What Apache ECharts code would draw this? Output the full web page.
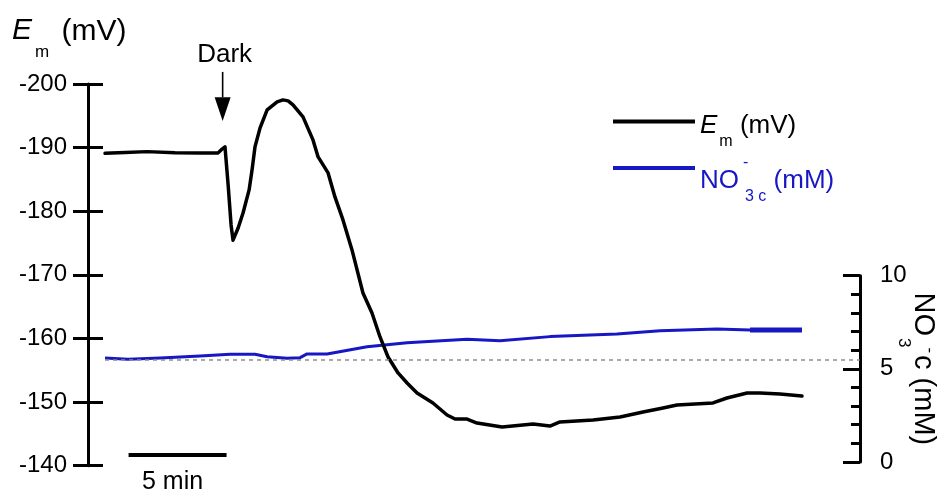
<!DOCTYPE html>
<html>
<head>
<meta charset="utf-8">
<script src="https://cdn.jsdelivr.net/npm/echarts@6/dist/echarts.min.js"></script>
<style>
  html, body { margin: 0; padding: 0; background: #fff; }
  #chart { width: 945px; height: 495px; }
</style>
</head>
<body>
<div id="chart"></div>
<script>
// Membrane potential Em (mV) against time (min)
const emTime = [0, 1.02, 2.14, 3.57, 4.85, 5.77, 5.92, 6.12, 6.28, 6.43, 6.53, 6.79, 7.04, 7.35, 7.5,
  7.65, 7.91, 8.27, 8.78, 9.08, 9.34, 9.59, 10.1, 10.61, 10.87, 11.38, 11.73, 12.14, 12.6, 13.16,
  13.62, 14.03, 14.44, 14.95, 15.41, 15.92, 16.73, 17.45, 17.86, 18.47, 18.98, 20.26, 21.84, 22.7,
  23.21, 24.9, 26.28, 27.45, 28.47, 29.18, 31.02, 31.73, 32.76, 33.42, 34.44, 35.56];
const emValues = [-189.1, -189.25, -189.37, -189.2, -189.17, -189.17, -189.64, -190.11, -184.14, -177.85, -175.45, -177.37, -179.73, -183.35, -186.49,
  -190.11, -193.1, -195.93, -197.19, -197.5, -197.35, -196.71, -194.83, -191.21, -188.54, -186.02, -182.25, -178.63, -173.92, -167.15,
  -164.01, -160.24, -157.09, -154.58, -153.0, -151.43, -149.86, -147.97, -147.34, -147.34, -146.71, -146.08, -146.56, -146.24,
  -146.87, -147.19, -147.66, -148.44, -149.07, -149.54, -149.86, -150.64, -151.43, -151.43, -151.27, -150.96];

// Cytosolic nitrate NO3-c (mM) against time (min)
const no3Time = [0, 1.17, 2.81, 4.85, 6.38, 7.65, 8.27, 9.29, 9.95, 10.31, 11.33, 13.37, 15.41,
  18.47, 20.15, 22.7, 26.12, 28.32, 31.22, 32.91, 35.56];
const no3Values = [5.58, 5.51, 5.58, 5.69, 5.78, 5.78, 5.65, 5.57, 5.6, 5.8, 5.8, 6.19, 6.4,
  6.59, 6.51, 6.73, 6.87, 7.05, 7.14, 7.09, 7.09];
const no3Baseline = 5.5;      // dotted reference level (mM)
const no3TailFrom = 32.9;     // last stretch of the trace drawn heavier

// Axis ranges / ticks
const emAxis = { min: -200, max: -140, interval: 10 };
const no3Axis = { min: 0, max: 10, interval: 5 };
const timeRange = { min: -0.87, max: 38.52 };

// Annotations
const darkOnset = 6;                          // min, light switched off
const scaleBar = { start: 1.2, length: 5, level: -141.7, label: '5 min' };

const FONT = '"Liberation Sans", Arial, Helvetica, sans-serif';
const BLACK = '#000000';
const BLUE = '#1717c4';

const zip = (xs, ys) => xs.map((x, i) => [x, ys[i]]);
const emData = zip(emTime, emValues);
const no3Data = zip(no3Time, no3Values);
const no3Tail = no3Data.filter(d => d[0] >= no3TailFrom);

const chart = echarts.init(document.getElementById('chart'), null, { renderer: 'canvas' });

const txt = (size, color, extra) => Object.assign(
  { fontFamily: FONT, fontSize: size, fontWeight: 'normal', color: color }, extra || {});

const option = {
  animation: false,
  backgroundColor: '#fff',
  textStyle: { fontFamily: FONT, color: BLACK },
  title: {
    left: 12, top: 0, padding: 0,
    text: '{e|E}{s|m}{u| (mV)}',
    textStyle: {
      fontFamily: FONT, fontSize: 28, fontWeight: 'normal', color: BLACK,
      rich: {
        e: txt(30, BLACK, { fontStyle: 'italic' }),
        s: txt(17, BLACK, { padding: [44, 0, 0, 3] }),
        u: txt(30, BLACK, { padding: [2, 0, 0, 4] })
      }
    }
  },
  legend: [
    {
      data: ['Em'], left: 613, top: 113, padding: 0, itemWidth: 82, itemHeight: 4,
      icon: 'rect', itemGap: 0, selectedMode: false,
      formatter: () => '{e|E}{s|m}{u| (mV)}',
      textStyle: {
        fontFamily: FONT, fontSize: 26, color: BLACK,
        rich: {
          e: txt(26, BLACK, { fontStyle: 'italic', padding: [9, 0, 0, 0] }),
          s: txt(16, BLACK, { padding: [40, 0, 0, 2] }),
          u: txt(26, BLACK, { padding: [9, 0, 0, 0] })
        }
      }
    },
    {
      data: ['NO3'], left: 613, top: 155, padding: 0, itemWidth: 82, itemHeight: 4,
      icon: 'rect', itemGap: 0, selectedMode: false,
      formatter: () => '{n|NO}{p|-}{s|3 c}{n| (mM)}',
      textStyle: {
        fontFamily: FONT, fontSize: 26, color: BLUE,
        rich: {
          n: txt(26, BLUE, { padding: [26, 0, 0, 0] }),
          p: txt(16, BLUE, { width: 0, padding: [0, 0, 10, 4] }),
          s: txt(16, BLUE, { padding: [58, 0, 0, 2] })
        }
      }
    }
  ],
  grid: [
    { left: 88, right: 85, top: 84, bottom: 29.3, containLabel: false, outerBoundsMode: 'none' },
    { left: 88, right: 85, top: 275.7, bottom: 33, containLabel: false, outerBoundsMode: 'none' }
  ],
  xAxis: [
    { type: 'value', gridIndex: 0, min: timeRange.min, max: timeRange.max, show: false },
    { type: 'value', gridIndex: 1, min: timeRange.min, max: timeRange.max, show: false }
  ],
  yAxis: [
    {
      type: 'value', gridIndex: 0, position: 'left', inverse: true,
      min: emAxis.min, max: emAxis.max, interval: emAxis.interval,
      axisLine: { show: true, onZero: false, lineStyle: { color: BLACK, width: 3 } },
      axisTick: { show: true, inside: false, length: 15, lineStyle: { color: BLACK, width: 3 } },
      axisLabel: txt(24, BLACK, { margin: 21 }),
      splitLine: { show: false }
    },
    {
      // inward half of the Em ticks
      type: 'value', gridIndex: 0, position: 'left', inverse: true,
      min: emAxis.min, max: emAxis.max, interval: emAxis.interval,
      axisLine: { show: false, onZero: false },
      axisTick: { show: true, inside: true, length: 15, lineStyle: { color: BLACK, width: 3 } },
      axisLabel: { show: false },
      splitLine: { show: false }
    },
    {
      type: 'value', gridIndex: 1, position: 'right',
      min: no3Axis.min, max: no3Axis.max, interval: no3Axis.interval,
      axisLine: { show: true, onZero: false, lineStyle: { color: BLACK, width: 3 } },
      axisTick: { show: true, inside: true, length: 17, lineStyle: { color: BLACK, width: 3 } },
      minorTick: { show: true, splitNumber: 5, length: 9, lineStyle: { color: BLACK, width: 3 } },
      axisLabel: txt(24, BLACK, { margin: 20 }),
      splitLine: { show: false },
      name: '{n|NO}{s|3}{p|-}{n|c (mM)}',
      nameLocation: 'middle', nameRotate: -90, nameGap: 35, nameMoveOverlap: false,
      nameTextStyle: {
        fontFamily: FONT, fontSize: 29, color: BLACK,
        rich: {
          n: txt(29, BLACK),
          s: txt(17, BLACK, { padding: [38, 0, 0, 2] }),
          p: txt(17, BLACK, { padding: [0, 2, 14, 0] })
        }
      }
    }
  ],
  series: [
    {
      name: 'Em', type: 'line', xAxisIndex: 0, yAxisIndex: 0,
      data: emData, symbol: 'none', showSymbol: false,
      lineStyle: { color: BLACK, width: 3.5, join: 'round', cap: 'round' },
      itemStyle: { color: BLACK }, z: 3
    },
    {
      name: 'NO3', type: 'line', xAxisIndex: 1, yAxisIndex: 2,
      data: no3Data, symbol: 'none', showSymbol: false,
      lineStyle: { color: BLUE, width: 3, join: 'round' },
      itemStyle: { color: BLUE }, z: 2,
      markLine: {
        silent: true, symbol: 'none', label: { show: false },
        lineStyle: { color: '#8a8a8a', type: [4, 4], width: 1.5 },
        data: [[{ coord: [0, no3Baseline] }, { coord: [timeRange.max - 0.01, no3Baseline] }]]
      }
    },
    {
      name: 'NO3 tail', type: 'line', xAxisIndex: 1, yAxisIndex: 2,
      data: no3Tail, symbol: 'none', showSymbol: false,
      lineStyle: { color: BLUE, width: 5 }, z: 2
    }
  ]
};

chart.setOption(option);

// Annotations placed through the Em coordinate system
const toPx = (t, v) => chart.convertToPixel({ xAxisIndex: 0, yAxisIndex: 0 }, [t, v]);
const arrowTop = toPx(darkOnset, -201.9);
const arrowNeck = toPx(darkOnset, -197.9);
const arrowTip = toPx(darkOnset, -194.2);
const darkLabel = toPx(darkOnset, -204.6);
const barFrom = toPx(scaleBar.start, scaleBar.level);
const barTo = toPx(scaleBar.start + scaleBar.length, scaleBar.level);

chart.setOption({
  graphic: [
    { type: 'line', shape: { x1: arrowTop[0], y1: arrowTop[1], x2: arrowNeck[0], y2: arrowNeck[1] },
      style: { stroke: BLACK, lineWidth: 1.6 } },
    { type: 'polygon', shape: { points: [[arrowNeck[0] - 8, arrowNeck[1]], [arrowNeck[0] + 8, arrowNeck[1]], [arrowTip[0], arrowTip[1]]] },
      style: { fill: BLACK } },
    { type: 'text', x: darkLabel[0] + 2, y: darkLabel[1],
      style: { text: 'Dark', font: '26px ' + FONT, fill: BLACK, align: 'center', verticalAlign: 'middle' } },
    { type: 'line', shape: { x1: barFrom[0], y1: barFrom[1], x2: barTo[0], y2: barTo[1] },
      style: { stroke: BLACK, lineWidth: 4 } },
    { type: 'text', x: (barFrom[0] + barTo[0]) / 2 - 5, y: barFrom[1] + 27,
      style: { text: scaleBar.label, font: '25px ' + FONT, fill: BLACK, align: 'center', verticalAlign: 'middle' } }
  ]
});
</script>
</body>
</html>
